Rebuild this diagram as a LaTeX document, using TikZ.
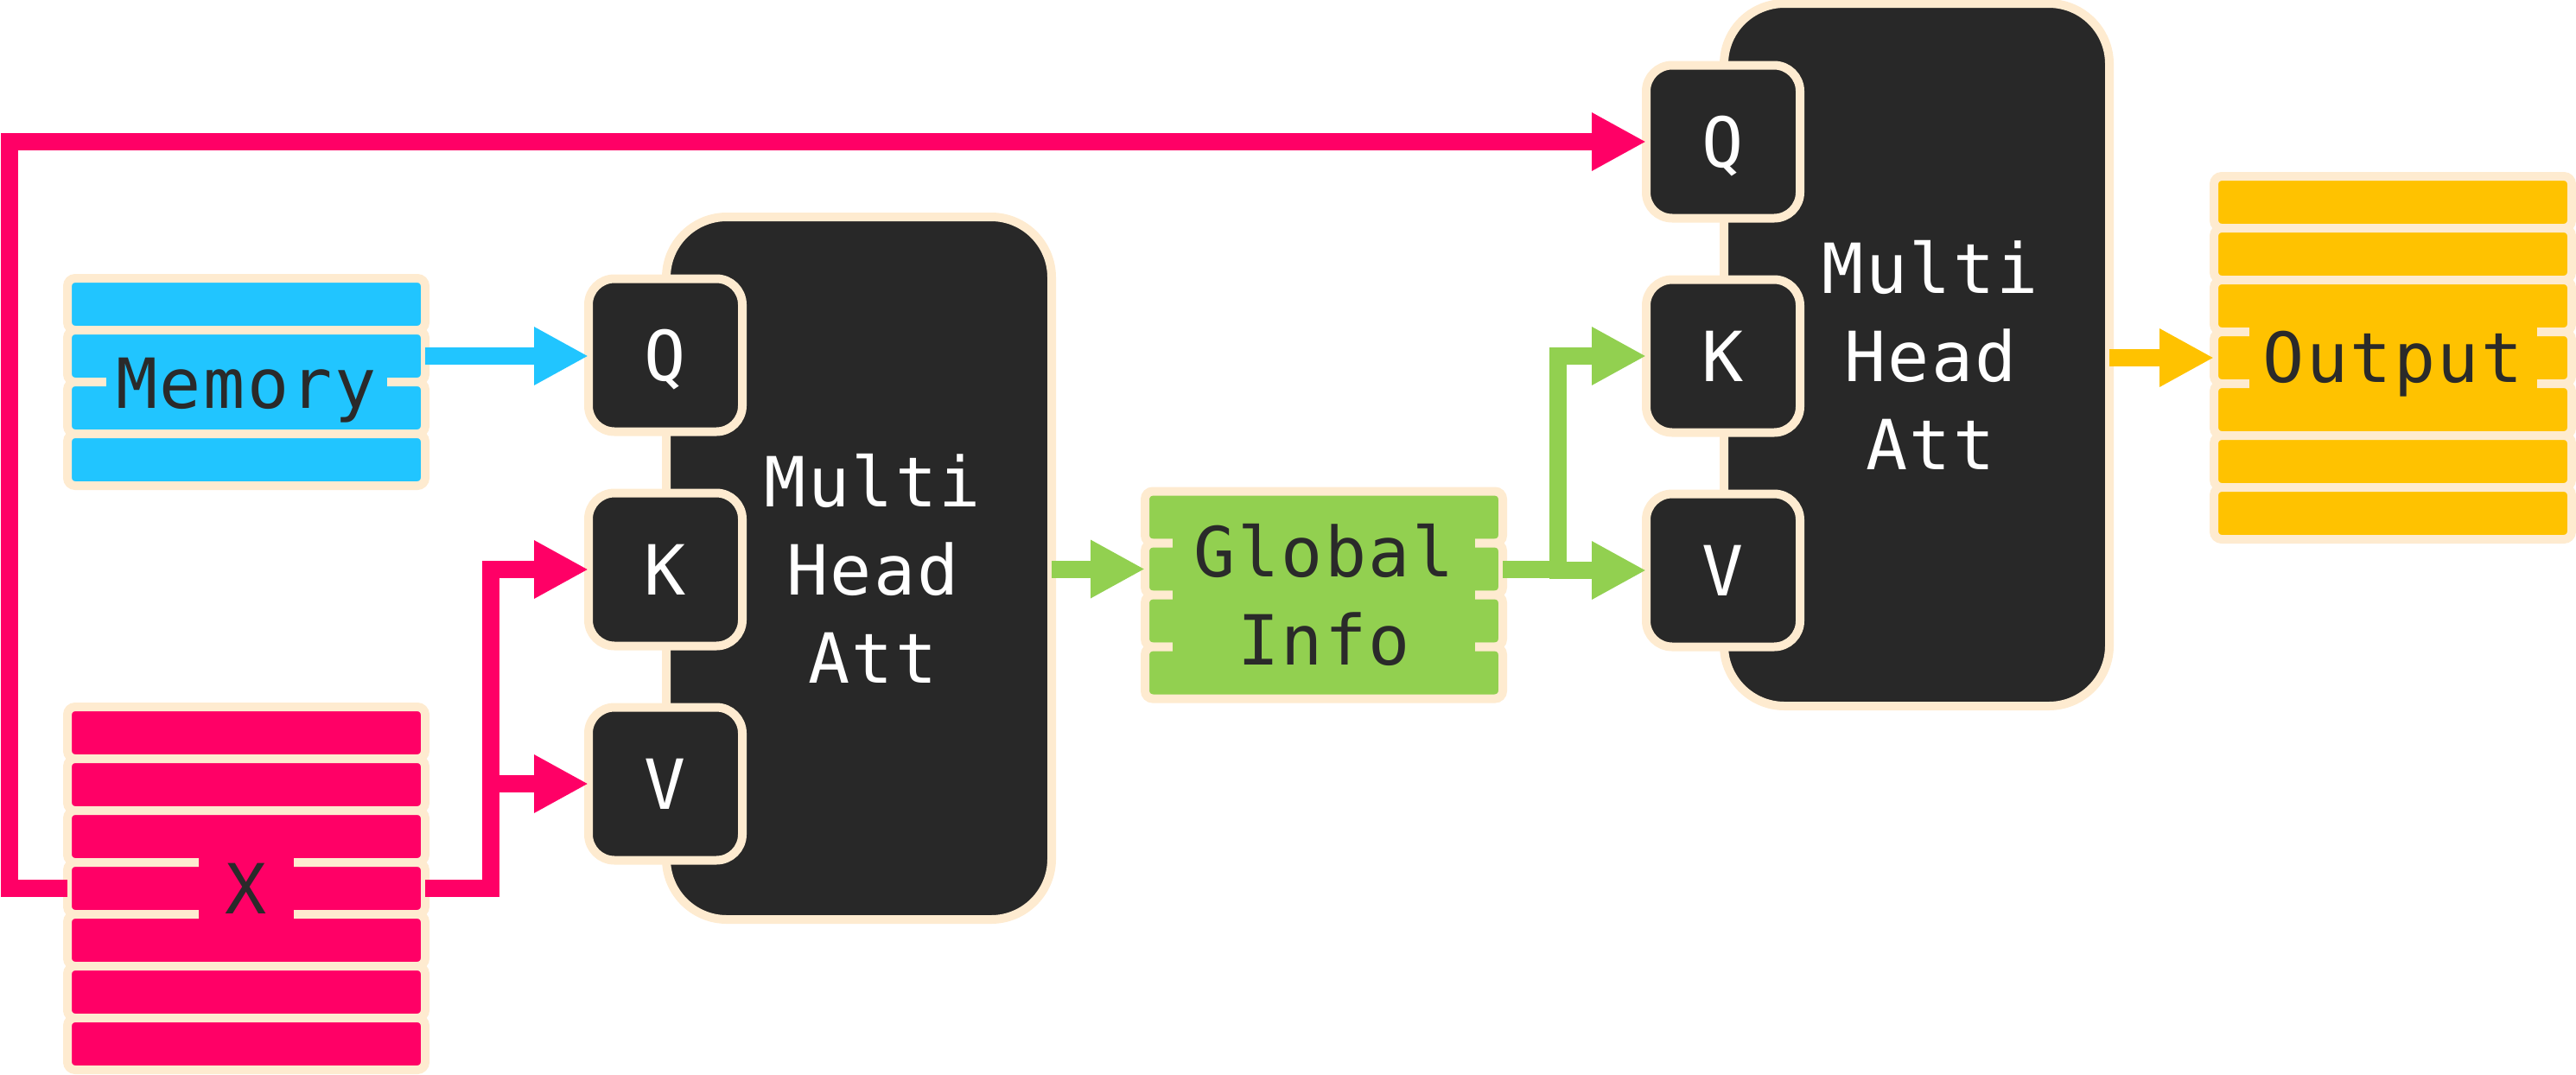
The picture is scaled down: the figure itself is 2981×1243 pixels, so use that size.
\documentclass[tikz,border=0pt]{standalone}
\usepackage{fontspec}
\newfontfamily\dmono[LetterSpace=3]{DejaVu Sans Mono}
\usetikzlibrary{arrows.meta,calc}
\definecolor{cream}{HTML}{FEEBD0}
\definecolor{memblue}{HTML}{21C5FF}
\definecolor{xpink}{HTML}{FF0066}
\definecolor{ggreen}{HTML}{92D050}
\definecolor{oyellow}{HTML}{FFC200}
\definecolor{boxdark}{HTML}{282828}
\definecolor{txtdark}{HTML}{2A2A2A}
\begin{document}
\begin{tikzpicture}[x=1pt,y=-1pt,
  cell/.style={draw=cream, line width=10pt, rounded corners=9pt, minimum width=414pt, minimum height=60pt, inner sep=0pt, outer sep=0pt},
  lbl/.style={font=\dmono\fontsize{80}{102}\selectfont, text=txtdark, inner sep=0pt, outer sep=0pt},
  stacklbl/.style={lbl, text height=62pt, text depth=18pt, inner ysep=6pt, anchor=base},
  port/.style={draw=cream, fill=boxdark, line width=10pt, rounded corners=30pt, minimum width=178pt, minimum height=177pt, inner sep=0pt, outer sep=0pt, text=white, font=\dmono\fontsize{80}{102}\selectfont, text height=58pt, text depth=0pt},
  att/.style={draw=cream, fill=boxdark, line width=10pt, rounded corners=70pt, minimum width=446pt, minimum height=813pt, inner sep=0pt, outer sep=0pt},
  conn/.style={line width=20pt, -{Triangle[length=63pt,width=63pt]}}
]
\useasboundingbox (0,0) rectangle (2981,1243);

% Memory stack
\foreach \i in {1,...,4}
  \node[cell, fill=memblue] (mem-\i) at (285,{352+60*(\i-1)}) {};
\node[stacklbl, fill=memblue, minimum width=325pt] (memtxt) at (285,472) {Memory};

% X stack
\foreach \i in {1,...,7}
  \node[cell, fill=xpink] (x-\i) at (285,{848+60*(\i-1)}) {};
\node[stacklbl, fill=xpink, minimum width=110pt] (xtxt) at (285,1057) {X};

% Global Info stack
\foreach \i in {1,...,4}
  \node[cell, fill=ggreen] (g-\i) at (1532,{598.5+60*(\i-1)}) {};
\node[lbl, fill=ggreen, minimum width=350pt, inner ysep=10pt, align=center] (gtxt) at (1532,688) {Global\\Info};

% Output stack
\foreach \i in {1,...,7}
  \node[cell, fill=oyellow] (o-\i) at (2769,{234+60*(\i-1)}) {};
\node[stacklbl, fill=oyellow, minimum width=333pt] (otxt) at (2769,442) {Output};

% Attention block 1
\node[att] (b1) at (994,657.5) {};
\node[lbl, text=white, align=center] (b1txt) at (1010,658) {Multi\\Head\\Att};
\node[port] (q1) at (770,411) {Q};
\node[port] (k1) at (770,659) {K};
\node[port] (v1) at (770,907) {V};

% Attention block 2
\node[att] (b2) at (2218,410.5) {};
\node[lbl, text=white, align=center] (b2txt) at (2234,411) {Multi\\Head\\Att};
\node[port] (q2) at (1994,164) {Q};
\node[port] (k2) at (1994,412) {K};
\node[port] (v2) at (1994,660) {V};

% routing columns
\coordinate (pk) at (567.5,0);
\coordinate (lx) at (11,0);
\coordinate (gx) at (1802.5,0);

% connectors
\draw[conn, memblue] (mem-2.east) -- (mem-2.east -| q1.west);
\draw[conn, xpink] (x-4.east) -| (pk |- k1.west) -- (k1.west);
\draw[conn, xpink] (pk |- x-4.east) |- (v1.west);
\draw[conn, xpink] (x-4.west) -| (lx |- q2.west) -- (q2.west);
\draw[conn, ggreen] (b1.east |- g-2.west) -- (g-2.west);
\draw[conn, ggreen] (g-2.east) -| (gx |- k2.west) -- (k2.west);
\draw[conn, ggreen] (gx |- g-2.east) |- (v2.west);
\draw[conn, oyellow] (b2.east |- o-4.west) -- (o-4.west);
\end{tikzpicture}
\end{document}
